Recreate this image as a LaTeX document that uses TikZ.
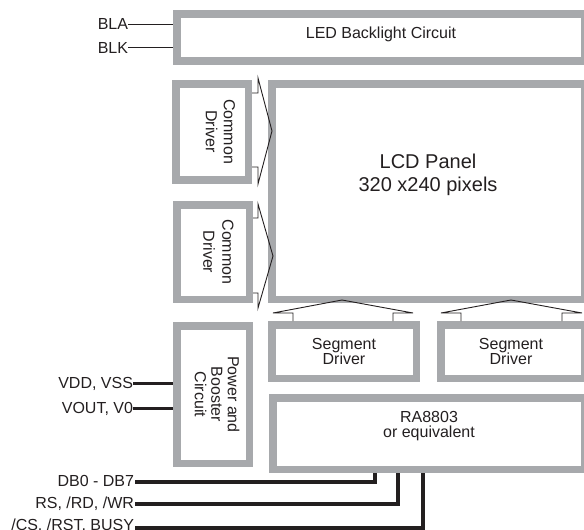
\documentclass[tikz,border=0pt]{standalone}
\usepackage{fontspec}
\setmainfont{Liberation Sans}
\definecolor{boxgray}{RGB}{167,169,172}
\definecolor{ink}{RGB}{35,31,32}
\tikzset{
  gbox/.style={draw=boxgray, line width=7.5pt, inner sep=0pt, outer sep=0pt},
  txt/.style={inner sep=0pt, outer sep=0pt, text=ink, align=center, font=\fontsize{16}{15}\selectfont},
  lbl/.style={inner sep=0pt, outer sep=0pt, text=ink, font=\fontsize{16}{15}\selectfont},
  thinline/.style={draw=ink, line width=0.9pt},
  sig/.style={draw=ink, line width=3.2pt, line join=miter},
  arr/.style={draw=ink, line width=0.9pt, line join=miter}
}
\begin{document}
\begin{tikzpicture}[x=1pt,y=-1pt]
\useasboundingbox (0,0) rectangle (584,530);
% labels
\node[lbl, anchor=base east] (bla) at (128,30) {BLA};
\node[lbl, anchor=base east] (blk) at (128,53) {BLK};
\node[lbl, anchor=base east] (vdd) at (133,388) {VDD, VSS};
\node[lbl, anchor=base east] (vout) at (133,413) {VOUT, V0};
\node[lbl, anchor=base east] (db) at (134,486) {DB0 - DB7};
\node[lbl, anchor=base east] (rs) at (134,508) {RS, /RD, /WR};
\node[lbl, anchor=base east] (cs) at (134,530.5) {/CS, /RST, BUSY};
% anchor points on the box outlines
\coordinate (ledw) at (177,0);
\coordinate (pww) at (177,0);
\coordinate (rasw) at (273,469.75);
% connectors
\draw[thinline] (bla.east) -- (bla.east -| ledw);
\draw[thinline] (blk.east) -- (blk.east -| ledw);
\draw[sig] (vdd.east) -- (vdd.east -| pww);
\draw[sig] (vout.east) -- (vout.east -| pww);
\draw[sig] ([xshift=1pt,yshift=4pt]db.base east) -| ([xshift=102pt]rasw);
\draw[sig] ([xshift=1pt,yshift=4pt]rs.base east) -| ([xshift=125pt]rasw);
\draw[sig] ([xshift=1pt,yshift=2.5pt]cs.base east) -| ([xshift=150pt]rasw);
% boxes
\node[gbox, minimum width=407.5pt, minimum height=47pt] (led) at (380.5,37.25) {};
\node[gbox, minimum width=72.5pt, minimum height=96pt] (cd1) at (212,131.75) {};
\node[gbox, minimum width=72.5pt, minimum height=94.5pt] (cd2) at (213,252) {};
\node[gbox, minimum width=312.5pt, minimum height=215.5pt] (lcd) at (428,191.5) {};
\node[gbox, minimum width=144.5pt, minimum height=53.5pt] (seg1) at (344,351.5) {};
\node[gbox, minimum width=143.5pt, minimum height=53.5pt] (seg2) at (512.5,351.5) {};
\node[gbox, minimum width=311.5pt, minimum height=71.5pt] (ra) at (428.5,433.5) {};
\node[gbox, minimum width=72.5pt, minimum height=137.5pt] (pw) at (213,394.5) {};
% texts
\node[txt, anchor=north] (ledt) at (381,27) {LED Backlight Circuit};
\node[txt, anchor=north, font=\fontsize{20}{23}\selectfont] (lcdt) at (428,154) {LCD Panel\\320 x240 pixels};
\node[txt, anchor=north] (seg1t) at (344,338) {Segment\\Driver};
\node[txt, anchor=north] (seg2t) at (511,338) {Segment\\Driver};
\node[txt, anchor=north, font=\fontsize{16}{15}\selectfont] (rat) at (429,411.5) {RA8803\\or equivalent};
\node[txt, anchor=north, rotate=-90, font=\fontsize{16}{18}\selectfont] (cd1t) at (235,131.5) {Common\\Driver};
\node[txt, anchor=north, rotate=-90, font=\fontsize{16}{19}\selectfont] (cd2t) at (233.5,252) {Common\\Driver};
\node[txt, anchor=north, rotate=-90, font=\fontsize{16}{16.5}\selectfont] (pwt) at (239.5,394.5) {Power and\\Booster\\Circuit};
% block arrows
\draw[arr] (252,93) -- (258,93) -- (258,78) -- (272,131) -- (258,184) -- (258,167) -- (252,167);
\draw[arr] (253,218) -- (258,218) -- (258,204) -- (273,256) -- (258,308) -- (258,293) -- (253,293);
\draw[arr] (293,321) -- (293,313) -- (273,313) -- (342,300) -- (413,313) -- (393,313) -- (393,321);
\draw[arr] (461,321) -- (461,313) -- (441,313) -- (511,300) -- (582,313) -- (562,313) -- (562,321);
\end{tikzpicture}
\end{document}
